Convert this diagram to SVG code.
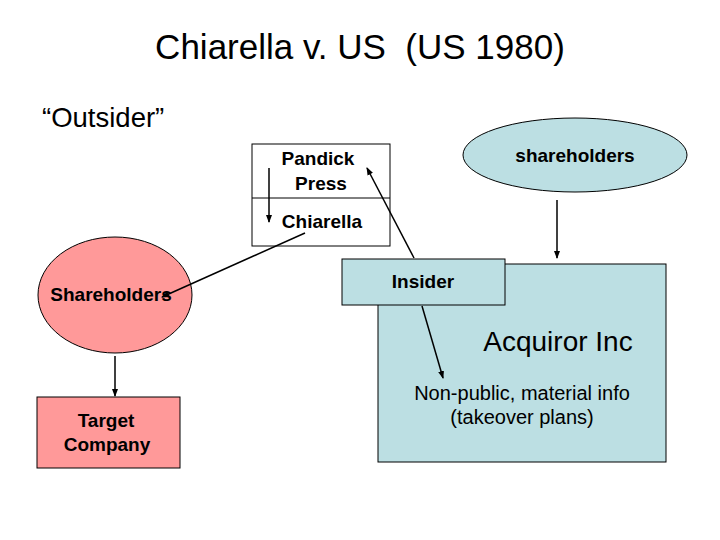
<svg xmlns="http://www.w3.org/2000/svg" width="720" height="540" viewBox="0 0 720 540">
<style>
text{font-family:"Liberation Sans",Arial,sans-serif;fill:#000}
.b{font-weight:bold;font-size:19px}
.n{font-size:20px}
.c line{stroke:#000;stroke-width:1.5;marker-end:url(#a)}
</style>
<defs><marker id="a" markerWidth="8" markerHeight="8" refX="7" refY="4" orient="auto" markerUnits="userSpaceOnUse"><path d="M0,1 L8,4 L0,7 Z" fill="#000"/></marker></defs>
<rect width="720" height="540" fill="#fff"/>
<text x="360" y="59" font-size="35" text-anchor="middle" xml:space="preserve">Chiarella v. US  (US 1980)</text>
<text x="42" y="127" font-size="27.5">“Outsider”</text>
<g id="acquiror"><rect x="378" y="264" width="288" height="198" fill="#bcdfe3" stroke="#000" stroke-width="1"/>
<text x="558" y="351" font-size="28" text-anchor="middle">Acquiror Inc</text>
<text x="522" y="400" class="n" text-anchor="middle">Non-public, material info</text>
<text x="522" y="424" class="n" text-anchor="middle">(takeover plans)</text></g>
<g id="insider"><rect x="342" y="259" width="163" height="46" fill="#bcdfe3" stroke="#000"/><text x="423" y="288" class="b" text-anchor="middle">Insider</text></g>
<g id="pandick"><rect x="252" y="144" width="138" height="102" fill="#fff" stroke="#000"/><line x1="252" y1="198" x2="390" y2="198" stroke="#000"/>
<text x="318" y="165" class="b" text-anchor="middle">Pandick</text><text x="321" y="190" class="b" text-anchor="middle">Press</text><text x="322" y="228" class="b" text-anchor="middle">Chiarella</text></g>
<g id="shareholders2"><ellipse cx="575" cy="155" rx="112" ry="37" fill="#bcdfe3" stroke="#000"/><text x="575" y="162" class="b" text-anchor="middle">shareholders</text></g>
<g id="shareholders1"><ellipse cx="115" cy="295" rx="77" ry="58" fill="#ff9999" stroke="#000"/><text x="111" y="301" class="b" text-anchor="middle">Shareholders</text></g>
<g id="target"><rect x="37" y="397" width="143" height="71" fill="#ff9999" stroke="#000"/><text x="106" y="427" class="b" text-anchor="middle">Target</text><text x="107" y="451" class="b" text-anchor="middle">Company</text></g>
<g class="c" id="connectors">
<line x1="269" y1="168" x2="269" y2="222"/>
<line x1="414" y1="258" x2="367" y2="168"/>
<line x1="422" y1="306" x2="443" y2="378"/>
<line x1="305" y1="233" x2="162" y2="297"/>
<line x1="557" y1="200" x2="557" y2="258"/>
<line x1="115" y1="356" x2="115" y2="396"/>
</g>
</svg>
